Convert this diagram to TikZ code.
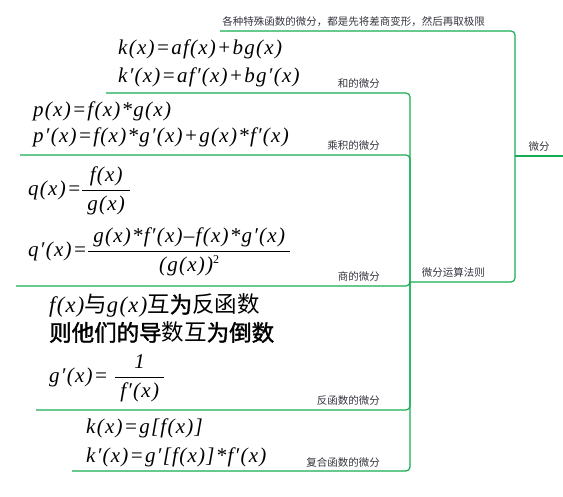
\documentclass[tikz,border=0pt]{standalone}
\usepackage{amsmath}
\usepackage{fontspec}
\setmainfont{Liberation Serif}[LetterSpace=6]
\newfontfamily\cjk{Noto Sans CJK SC}
\newfontfamily\cjkb{Noto Sans CJK SC}[FakeBold=1.6]
\definecolor{brc}{RGB}{22,172,82}
\definecolor{labc}{RGB}{52,52,62}
\newcommand{\eqq}{=}
\newcommand{\pll}{+}
\newcommand{\pr}{′}
\newcommand{\fpad}[1]{\hbox{\kern5pt #1\kern5pt}}
\newcommand{\mth}[1]{{\rmfamily\itshape #1}}
\tikzset{
  branch/.style={draw=brc, line width=1.2pt, rounded corners=4pt},
  fml/.style={anchor=base west, inner sep=0pt, font=\fontsize{21}{25}\selectfont\itshape},
  cjkline/.style={anchor=base west, inner sep=0pt, font=\fontsize{22.5}{26}\selectfont},
  lbl/.style={anchor=base east, inner sep=0pt, text=labc, font=\cjk\fontsize{10.5}{12}\selectfont},
}
\begin{document}
\begin{tikzpicture}[x=1pt,y=-1pt]
\useasboundingbox (0,0) rectangle (563,497);
% junctions and branch ends
\coordinate (root) at (515,156);
\coordinate (rootend) at (563,156);
\coordinate (t1) at (220,31);
\coordinate (j2) at (410,282);
\coordinate (b1) at (106,93);
\coordinate (b2) at (20,155);
\coordinate (b3) at (16,286);
\coordinate (b4) at (36,410);
\coordinate (b5) at (72,471);
% connectors
\draw[branch] (root) -- (rootend);
\draw[branch] (root) |- (t1);
\draw[branch] (root) |- (j2);
\draw[branch] (j2) |- (b1);
\draw[branch] (j2) |- (b2);
\draw[branch] (j2) |- (b3);
\draw[branch] (j2) |- (b4);
\draw[branch] (j2) |- (b5);
% labels
\node[lbl, anchor=base] (lroot) at (539,151) {微分};
\node[lbl] (lt1) at (485,26) {各种特殊函数的微分，都是先将差商变形，然后再取极限};
\node[lbl] (lj2) at (485,277) {微分运算法则};
\node[lbl] (lb1) at (380,88) {和的微分};
\node[lbl] (lb2) at (380,150) {乘积的微分};
\node[lbl] (lb3) at (380,281) {商的微分};
\node[lbl] (lb4) at (380,405) {反函数的微分};
\node[lbl] (lb5) at (380,466) {复合函数的微分};
% formulas: sum
\node[fml] (k1) at (118,55) {k(x)\eqq af(x)\pll bg(x)};
\node[fml] (k2) at (118,83) {k\pr(x)\eqq af\pr(x)\pll bg\pr(x)};
% product
\node[fml] (p1) at (33,117) {p(x)\eqq f(x)*g(x)};
\node[fml] (p2) at (33,143) {p\pr(x)\eqq f(x)*g\pr(x)\pll g(x)*f\pr(x)};
% quotient
\node[fml] (q1) at (28,196) {q(x)\eqq$\dfrac{\fpad{f(x)}}{\fpad{g(x)}}$};
\node[fml] (q2) at (28,257) {q\pr(x)\eqq$\dfrac{\fpad{g(x)*f\pr(x)–f(x)*g\pr(x)}}{\hbox{(g(x))\raisebox{8pt}{\fontsize{12}{12}\selectfont\upshape 2}}}$};
% inverse
\node[cjkline] (r1) at (49,313) {\mth{f(x)}{\cjk 与}\mth{g(x)}{\cjk 互}{\cjkb 为}{\cjk 反函数}};
\node[cjkline] (r2) at (49,341) {{\cjkb 则他们的导}{\cjk 数互}{\cjkb 为倒数}};
\node[fml] (r3) at (49,383) {g\pr(x)\eqq\kern6pt$\dfrac{\fpad{1}}{\fpad{f\pr(x)}}$};
% composite
\node[fml] (c1) at (86,433) {k(x)\eqq g[f(x)]};
\node[fml] (c2) at (86,462) {k\pr(x)\eqq g\pr[f(x)]*f\pr(x)};
\end{tikzpicture}
\end{document}
